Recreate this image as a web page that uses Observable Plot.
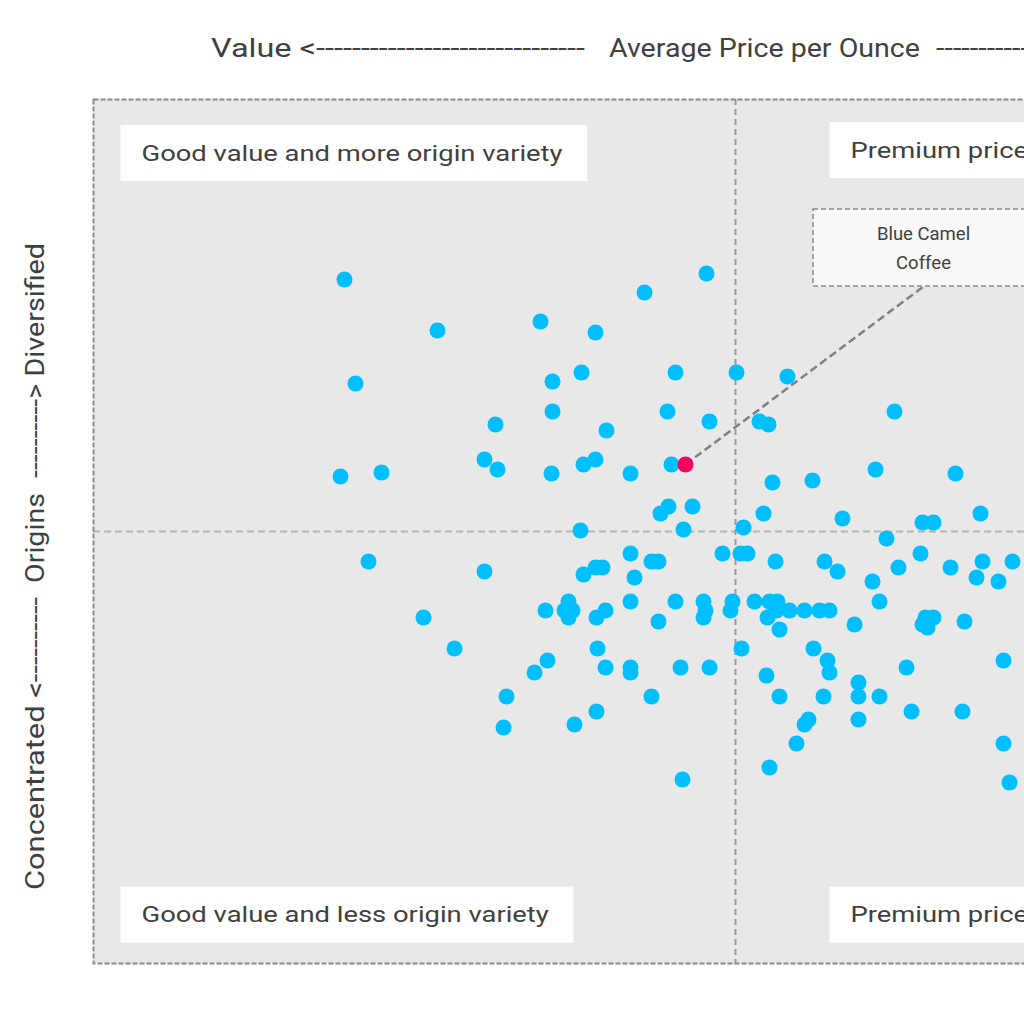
<!DOCTYPE html>
<html>
<head>
<meta charset="utf-8">
<script src="https://cdn.jsdelivr.net/npm/d3@7"></script>
<script src="https://cdn.jsdelivr.net/npm/@observablehq/plot@0.6"></script>
<style>
  html, body { margin: 0; padding: 0; background: #fff; overflow: hidden; width: 1024px; height: 1024px; }
</style>
</head>
<body>
<div id="chart"></div>
<script>
// ---------------- DATA ----------------
// x: average price per ounce score, y: origin variety score
const priceDomain = [93, 1377];
const originDomain = [963, 99];
const priceMid = 735;
const originMid = 531;

const upperLeft = [
  [344,279],[437,330],[355,383],[340,476],[381,472],[540,321],[595,332],[644,292],[706,273],
  [552,381],[581,372],[552,411],[495,424],[484,459],[497,469],[606,430],[583,464],[595,459],
  [551,473],[630,473],[675,372],[667,411],[709,421],[671,464],[660,513],[668,506],[692,506],
  [683,529],[580,530]
];
const upperRight = [
  [736,372],[787,376],[759,421],[768,424],[894,411],[772,482],[812,480],[875,469],[955,473],
  [763,513],[842,518],[922,522],[933,522],[980,513],[886,538],[743,527]
];
const lowerLeft = [
  [368,561],[484,571],[583,574],[595,567],[602,567],[423,617],[454,648],[545,610],[568,601],
  [564,610],[572,610],[568,617],[596,617],[605,610],[597,648],[605,667],[547,660],[534,672],
  [506,696],[503,727],[574,724],[596,711],[630,553],[651,561],[658,561],[634,577],[722,553],
  [630,601],[675,601],[703,601],[705,610],[703,617],[658,621],[732,601],[730,610],[630,667],
  [630,672],[680,667],[709,667],[651,696],[682,779]
];
const lowerRight = [
  [740,553],[747,553],[775,561],[824,561],[837,571],[754,601],[769,601],[777,601],[767,617],
  [776,610],[789,610],[804,610],[819,610],[829,610],[779,629],[854,624],[741,648],[813,648],
  [827,660],[829,672],[766,675],[779,696],[823,696],[808,719],[804,724],[796,743],[769,767],
  [920,553],[898,567],[950,567],[982,561],[1012,561],[872,581],[976,577],[998,581],[879,601],
  [925,617],[933,617],[922,624],[927,627],[964,621],[1003,660],[906,667],[858,682],[858,696],
  [879,696],[858,719],[911,711],[962,711],[1003,743],[1009,782]
];
const highlight = [{name: "Blue Camel Coffee", x: 685, y: 464}];
const calloutText = "Blue Camel\nCoffee";
const calloutAnchor = [{x: 923, y: 286}];

const quadTopLeft = "Good value and more origin variety";
const quadBottomLeft = "Good value and less origin variety";
const quadTopRight = "Premium price and more origin variety";
const quadBottomRight = "Premium price and less origin variety";

const titleLeft = "Value <" + "-".repeat(30);
const titleMid = "Average Price per Ounce";
const titleRight = "-".repeat(30) + "> Premium";
const yLabelLow = "Concentrated <" + "-".repeat(10);
const yLabelMid = "Origins";
const yLabelHigh = "-".repeat(10) + "> Diversified";

// ---------------- CHART ----------------
const points = [...upperLeft, ...upperRight, ...lowerLeft, ...lowerRight].map(([x, y]) => ({x, y}));
const FONT = "Roboto, 'Open Sans', sans-serif";
const TEXT = "#404040";

const plot = Plot.plot({
  width: 1470,
  height: 1024,
  marginLeft: 93,
  marginRight: 93,
  marginTop: 99,
  marginBottom: 61,
  style: {maxWidth: "none", fontFamily: FONT, background: "white", overflow: "visible"},
  x: {domain: priceDomain, axis: null},
  y: {domain: originDomain, axis: null},
  marks: [
    Plot.frame({fill: "#e8e8e8", stroke: "none"}),
    Plot.ruleY([originMid], {stroke: "#b3b3b3", strokeWidth: 2, strokeDasharray: "7,4"}),
    Plot.ruleX([priceMid], {stroke: "#999", strokeWidth: 2, strokeDasharray: "6,4"}),
    Plot.frame({stroke: "#8a8a8a", strokeWidth: 2, strokeDasharray: "5,2"}),
    Plot.link(highlight, {
      x1: "x", y1: "y",
      x2: () => calloutAnchor[0].x, y2: () => calloutAnchor[0].y,
      stroke: "#808080", strokeWidth: 2.5, strokeDasharray: "8,4"
    }),
    Plot.dot(points, {x: "x", y: "y", r: 8, fill: "#00bfff", stroke: "none"}),
    Plot.dot(highlight, {x: "x", y: "y", r: 8, fill: "#f0065f", stroke: "none"}),
    Plot.rect(calloutAnchor, {
      x1: d => d.x - 110, x2: d => d.x + 110, y1: d => d.y, y2: d => d.y - 77,
      fill: "#f8f8f8", stroke: "#888", strokeWidth: 1.5, strokeDasharray: "5,3"
    }),
    Plot.text(calloutAnchor, {
      x: "x", y: d => d.y - 41, text: () => calloutText,
      fontSize: 18.5, lineHeight: 1.52, fill: TEXT, lineAnchor: "middle", fontFamily: FONT
    }),
    Plot.text([quadTopLeft], {frameAnchor: "top-left", dx: 48, dy: 54, textAnchor: "start", lineAnchor: "middle", fontSize: 22, fill: TEXT, fontFamily: FONT}),
    Plot.text([quadBottomLeft], {frameAnchor: "bottom-left", dx: 48, dy: -48.5, textAnchor: "start", lineAnchor: "middle", fontSize: 22, fill: TEXT, fontFamily: FONT}),
    Plot.text([quadTopRight], {x: () => priceMid, y: () => originDomain[1], dx: 115, dy: 51, textAnchor: "start", lineAnchor: "middle", fontSize: 22, fill: TEXT, fontFamily: FONT}),
    Plot.text([quadBottomRight], {x: () => priceMid, y: () => originDomain[0], dx: 115, dy: -48.5, textAnchor: "start", lineAnchor: "middle", fontSize: 22, fill: TEXT, fontFamily: FONT})
  ]
});
document.getElementById("chart").appendChild(plot);

// ---------------- POST-PROCESS: label boxes, titles ----------------
const svg = d3.select(plot);
const svgRect = plot.getBoundingClientRect();
const quadLabels = [quadTopLeft, quadBottomLeft, quadTopRight, quadBottomRight];
const qNodes = svg.selectAll("text").filter(function() { return quadLabels.includes(this.textContent); }).nodes();
const refNode = qNodes.find(n => n.textContent === quadTopLeft);
const k = 421 / refNode.getComputedTextLength();
qNodes.forEach(n => {
  const len = n.getComputedTextLength();
  n.setAttribute("textLength", len * k);
  n.setAttribute("lengthAdjust", "spacingAndGlyphs");
});
const boxLayer = svg.insert("g", function() { return qNodes[0].closest("g[aria-label]") || qNodes[0].parentNode; });
qNodes.forEach(n => {
  const bb = n.getBoundingClientRect();
  const cy = bb.top - svgRect.top + bb.height / 2;
  boxLayer.append("rect")
    .attr("x", bb.left - svgRect.left - 21)
    .attr("width", bb.width + 45)
    .attr("y", cy - 28)
    .attr("height", 56)
    .attr("fill", "white");
});

function addText(str, x, y, len, opts = {}) {
  const t = svg.append("text")
    .attr("font-family", FONT)
    .attr("font-size", opts.size || 25)
    .attr("fill", TEXT)
    .attr("text-anchor", "start")
    .text(str);
  if (opts.rotate) t.attr("transform", `translate(${x},${y}) rotate(-90)`);
  else t.attr("x", x).attr("y", y);
  if (len) t.attr("textLength", len).attr("lengthAdjust", "spacingAndGlyphs");
  return t;
}
addText(titleLeft, 211, 57, 374);
addText(titleMid, 609, 57, 311);
addText(titleRight, 936, 57, 400);
addText(yLabelLow, 44, 890, 293, {rotate: true});
addText(yLabelMid, 44, 583, 90, {rotate: true});
addText(yLabelHigh, 44, 478, 235, {rotate: true});
</script>
</body>
</html>
